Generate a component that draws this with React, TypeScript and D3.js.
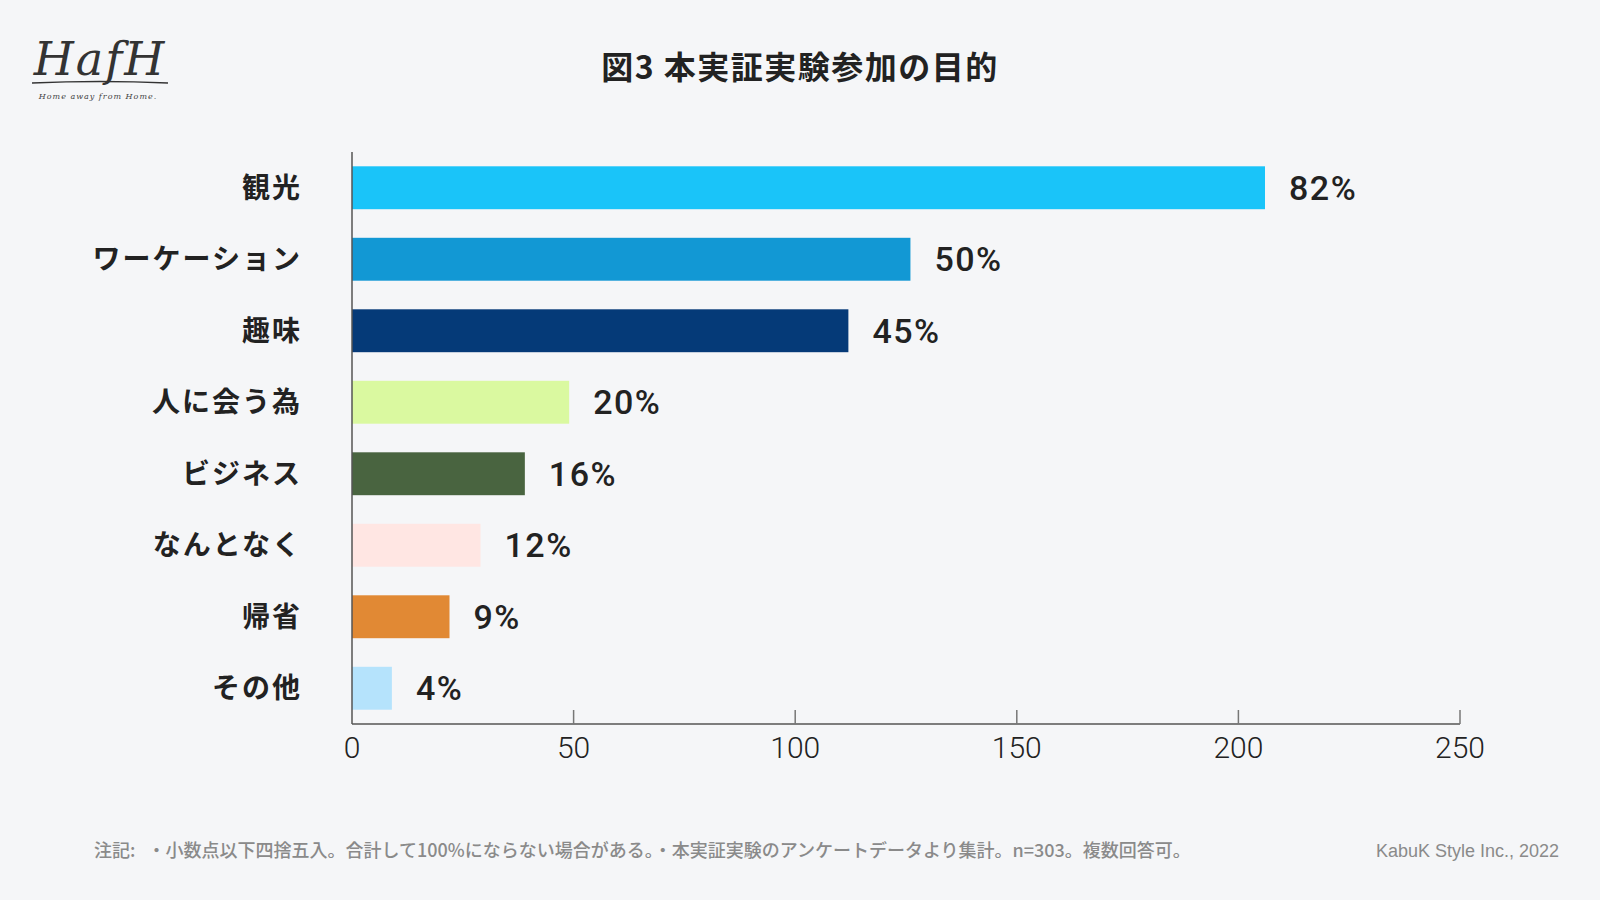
import React, { useEffect, useRef } from 'react';
import * as d3 from 'd3';

const categories = ['観光', 'ワーケーション', '趣味', '人に会う為', 'ビジネス', 'なんとなく', '帰省', 'その他'];
const counts = [206, 126, 112, 49, 39, 29, 22, 9];
const percentLabels = ['82%', '50%', '45%', '20%', '16%', '12%', '9%', '4%'];
const barColors = ['#1ac4f9', '#1298d4', '#053a78', '#daf9a0', '#496440', '#ffe6e3', '#e18934', '#b5e3fc'];
const xTicks = [0, 50, 100, 150, 200, 250];

const jp = '"Noto Sans CJK JP", "Noto Sans", sans-serif';
const latin = 'Roboto, "Liberation Sans", Arial, sans-serif';

const App: React.FC = () => {
  const svgRef = useRef<SVGSVGElement>(null);

  useEffect(() => {
    if (!svgRef.current) return;
    const svg = d3.select(svgRef.current);
    svg.selectAll('*').remove();

    const width = 1600;
    const height = 900;
    const left = 352;
    const right = 1460;
    const top = 152;
    const bottom = 724;

    svg.append('rect').attr('width', width).attr('height', height).attr('fill', '#f5f6f8');

    const x = d3.scaleLinear().domain([0, 250]).range([left, right]);
    const y = d3.scaleBand<string>().domain(categories).range([top, bottom]).paddingInner(0.4).paddingOuter(0.2);

    // Title
    svg.append('text')
      .attr('x', 800).attr('y', 79)
      .attr('text-anchor', 'middle')
      .attr('font-family', jp).attr('font-weight', 700).attr('font-size', 32)
      .attr('letter-spacing', 1.5)
      .attr('fill', '#222')
      .text('図3 本実証実験参加の目的');

    // Logo
    const logo = svg.append('g');
    logo.append('text')
      .attr('x', 100).attr('y', 75)
      .attr('text-anchor', 'middle')
      .attr('font-family', '"DejaVu Serif", serif').attr('font-style', 'italic').attr('font-weight', 300)
      .attr('font-size', 46).attr('fill', '#333').attr('letter-spacing', 2)
      .text('HafH');
    logo.append('path')
      .attr('d', 'M32,83 Q100,80 168,83')
      .attr('stroke', '#333').attr('stroke-width', 1.5).attr('fill', 'none');
    logo.append('text')
      .attr('x', 98).attr('y', 99)
      .attr('text-anchor', 'middle')
      .attr('font-family', '"DejaVu Serif", serif').attr('font-style', 'italic')
      .attr('font-size', 8).attr('fill', '#444').attr('letter-spacing', 1)
      .text('Home away from Home.');

    // Bars
    svg.selectAll('rect.bar')
      .data(categories)
      .enter()
      .append('rect')
      .attr('class', 'bar')
      .attr('x', x(0))
      .attr('y', (d) => y(d) as number)
      .attr('width', (_, i) => x(counts[i]) - x(0))
      .attr('height', y.bandwidth())
      .attr('fill', (_, i) => barColors[i]);

    // Value labels
    svg.selectAll('text.value')
      .data(categories)
      .enter()
      .append('text')
      .attr('class', 'value')
      .attr('x', (_, i) => x(counts[i]) + 24)
      .attr('y', (d) => (y(d) as number) + y.bandwidth() / 2)
      .attr('dy', '0.36em')
      .attr('font-family', latin).attr('font-weight', 500).attr('font-size', 34)
      .attr('letter-spacing', 1.5)
      .attr('fill', '#222')
      .text((_, i) => percentLabels[i]);

    // Category labels
    svg.selectAll('text.cat')
      .data(categories)
      .enter()
      .append('text')
      .attr('class', 'cat')
      .attr('x', 302)
      .attr('y', (d) => (y(d) as number) + y.bandwidth() / 2)
      .attr('dy', '0.36em')
      .attr('text-anchor', 'end')
      .attr('font-family', jp).attr('font-weight', 700).attr('font-size', 28)
      .attr('letter-spacing', 2)
      .attr('fill', '#222')
      .text((d) => d);

    // Axes
    svg.append('line')
      .attr('x1', left).attr('x2', left).attr('y1', top).attr('y2', bottom)
      .attr('stroke', '#555').attr('stroke-width', 1.5);
    svg.append('line')
      .attr('x1', left).attr('x2', right).attr('y1', bottom).attr('y2', bottom)
      .attr('stroke', '#555').attr('stroke-width', 1.5);

    svg.selectAll('line.tick')
      .data(xTicks.slice(1))
      .enter()
      .append('line')
      .attr('class', 'tick')
      .attr('x1', (d) => x(d)).attr('x2', (d) => x(d))
      .attr('y1', bottom - 14).attr('y2', bottom)
      .attr('stroke', '#777').attr('stroke-width', 1.5);

    svg.selectAll('text.tick')
      .data(xTicks)
      .enter()
      .append('text')
      .attr('class', 'tick')
      .attr('x', (d) => x(d))
      .attr('y', 758)
      .attr('text-anchor', 'middle')
      .attr('font-family', latin).attr('font-weight', 300).attr('font-size', 30)
      .attr('fill', '#222')
      .text((d) => String(d));

    // Footnotes
    svg.append('text')
      .attr('x', 94).attr('y', 857)
      .attr('font-family', jp).attr('font-size', 18).attr('font-weight', 500)
      .attr('fill', '#8a8a8a')
      .attr('xml:space', 'preserve')
      .style('white-space', 'pre')
      .text('注記:   ・小数点以下四捨五入。合計して100%にならない場合がある。・本実証実験のアンケートデータより集計。n=303。複数回答可。');
    svg.append('text')
      .attr('x', 1559).attr('y', 857)
      .attr('text-anchor', 'end')
      .attr('font-family', '"Liberation Sans", Arial, sans-serif').attr('font-size', 18)
      .attr('fill', '#8a8a8a')
      .text('KabuK Style Inc., 2022');
  }, []);

  return (
    <svg
      ref={svgRef}
      width={1600}
      height={900}
      viewBox="0 0 1600 900"
      style={{ position: 'absolute', left: 0, top: 0, display: 'block' }}
    />
  );
};

export default App;
